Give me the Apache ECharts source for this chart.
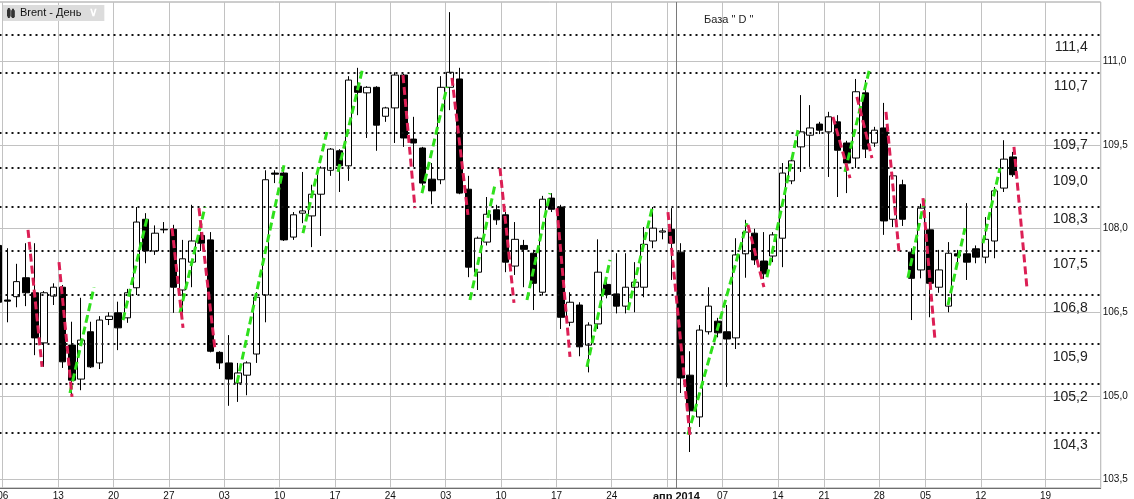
<!DOCTYPE html>
<html><head><meta charset="utf-8">
<script src="https://cdn.jsdelivr.net/npm/echarts@6/dist/echarts.min.js"></script>
<style>html,body{margin:0;padding:0;background:#fff}#c{width:1134px;height:499px}</style>
</head><body><div id="c"></div>
<script>
// ---- categories (trading days, incl. Sunday bars and empty future slots)
const dates = [
'01-05',
'01-06','01-07','01-08','01-09','01-10','01-12',
'01-13','01-14','01-15','01-16','01-17','01-19',
'01-20','01-21','01-22','01-23','01-24','01-26',
'01-27','01-28','01-29','01-30','01-31','02-02',
'02-03','02-04','02-05','02-06','02-07','02-09',
'02-10','02-11','02-12','02-13','02-14','02-16',
'02-17','02-18','02-19','02-20','02-21','02-23',
'02-24','02-25','02-26','02-27','02-28','03-02',
'03-03','03-04','03-05','03-06','03-07','03-09',
'03-10','03-11','03-12','03-13','03-14','03-16',
'03-17','03-18','03-19','03-20','03-21','03-23',
'03-24','03-25','03-26','03-27','03-28','03-30',
'03-31','04-01','04-02','04-03','04-04','04-06',
'04-07','04-08','04-09','04-10','04-11','04-13',
'04-14','04-15','04-16','04-17','04-20',
'04-21','04-22','04-23','04-24','04-25','04-27',
'04-28','04-29','04-30','05-01','05-02',
'05-05','05-06','05-07','05-08','05-09','05-11',
'05-12','05-13','05-14','05-15','05-16','05-17','05-18',
'05-19','05-20','05-21','05-22','05-23','05-24'
];
const opens = [107.70,106.72,106.78,107.12,106.85,105.95,106.79,106.95,105.91,105.30,106.15,105.59,106.37,106.49,106.40,106.94,108.17,107.60,107.98,107.99,106.90,107.40,107.88,107.80,105.78,105.59,105.23,105.37,105.75,106.81,109.00,109.00,107.85,108.28,108.23,108.62,109.05,109.40,109.13,110.56,110.44,110.54,110.02,110.17,110.76,109.61,109.45,108.89,108.88,110.54,110.69,108.71,107.22,107.76,108.34,108.25,107.33,107.70,107.56,106.86,108.55,108.39,106.32,106.63,105.91,106.29,107.00,106.83,106.61,106.95,106.95,107.78,107.94,107.99,107.58,105.37,104.62,106.15,106.34,106.15,106.04,107.55,107.92,107.42,107.51,107.83,108.86,109.47,109.68,109.88,109.74,109.92,109.54,109.27,110.44,109.54,109.81,108.17,108.79,107.58,107.26,107.98,106.95,106.61,107.55,107.55,107.64,107.49,107.78,108.73,109.29];
const highs = [107.83,107.65,107.37,107.74,107.74,106.88,107.02,106.99,106.33,106.76,106.33,106.43,106.50,106.69,106.92,108.39,108.28,108.06,108.12,108.07,107.80,108.43,107.94,107.94,105.80,106.09,105.59,105.62,106.86,109.05,109.05,109.05,108.30,109.02,108.79,109.12,109.45,109.43,110.74,110.89,110.56,110.56,110.19,110.81,110.78,110.01,109.47,109.18,110.74,111.89,110.89,108.95,107.86,108.57,108.43,108.30,108.12,107.80,107.62,108.59,108.64,108.43,106.86,106.68,106.32,107.81,107.08,107.56,107.56,107.40,108.03,108.39,108.01,108.37,107.74,105.80,106.27,106.95,106.40,106.63,107.83,108.16,108.00,107.94,107.94,109.18,109.30,110.40,110.22,109.92,110.10,110.04,109.58,110.69,110.67,109.83,110.26,109.00,108.88,107.65,108.45,108.30,107.62,107.76,107.62,108.46,107.70,108.21,108.75,109.59,109.38];
const lows = [106.61,106.32,106.59,106.61,105.73,105.52,106.63,105.50,105.00,105.10,105.50,105.48,106.27,105.82,106.31,106.81,107.38,107.53,107.92,106.49,106.49,106.95,107.60,105.78,105.48,104.82,104.89,105.01,105.59,106.32,108.82,107.78,107.80,108.10,107.67,107.87,108.95,108.66,108.86,110.04,109.63,109.40,109.92,109.54,109.47,109.11,108.64,108.44,108.80,110.13,108.62,107.13,106.90,107.70,108.07,107.22,107.17,106.95,106.54,106.80,108.30,106.20,106.25,105.71,105.42,106.20,106.75,106.48,106.48,106.50,106.77,107.65,107.81,107.08,105.05,103.99,104.44,106.10,106.05,105.16,105.84,107.12,107.35,107.10,107.40,107.31,108.80,109.02,109.11,109.70,108.93,108.57,108.64,109.09,109.27,109.47,107.89,108.03,108.05,106.36,107.11,106.41,106.85,106.50,107.40,107.08,107.38,107.38,107.47,108.66,108.93];
const closes = [106.68,106.70,107.05,106.85,106.04,106.85,106.95,105.61,105.28,106.00,105.52,106.36,106.43,106.22,106.85,108.12,107.60,107.92,107.99,106.95,107.46,107.78,107.74,105.80,105.59,105.30,105.41,105.59,106.77,108.88,108.98,107.80,108.25,108.32,108.62,109.09,109.43,109.13,110.67,110.45,110.54,109.86,110.17,110.76,109.63,109.54,108.82,108.68,110.54,110.81,108.64,107.31,107.83,108.26,108.16,107.40,107.81,107.63,107.02,108.53,108.35,106.41,106.68,105.88,106.27,107.22,106.82,106.61,106.95,107.04,107.72,108.01,107.96,107.74,105.32,104.73,106.18,106.61,106.13,106.02,107.53,107.94,107.44,107.19,107.89,109.00,109.22,109.74,109.81,109.77,110.01,109.41,109.18,110.46,109.43,109.77,108.14,108.95,108.17,107.11,108.37,107.02,107.26,107.56,107.51,107.40,107.49,107.81,108.68,109.25,108.97];

// ---- x tick labels (category index -> text)
const tickIndex = [1,7,13,19,25,31,37,43,49,55,61,67,74,79,85,90,96,101,107,114];
const tickText  = ['06','13','20','27','03','10','17','24','03','10','17','24','апр 2014','07','14','21','28','05','12','19'];
const weekStartIndex = [1,7,13,19,25,31,37,43,49,55,61,67,73,79,85,90,96,101,107,114];
const monthStartIndex = [74];

// ---- y ticks, level lines
const yTicks = [103.5,105,106.5,108,109.5,111];
const levels = [111.49,110.80,109.73,109.09,108.40,107.60,106.81,105.93,105.21,104.34];
const levelLabels = ['111,4','110,7','109,7','109,0','108,3','107,5','106,8','105,9','105,2','104,3'];
const lastPrice = 109.0;
const lastPriceLabel = '108,95';

// ---- zigzag segments [xStart, priceStart, xEnd, priceEnd] (x in category units)
const upSegments = [
[8.29,105.05,10.89,106.95],[14.04,106.36,16.64,108.19],[20.21,106.49,22.92,108.39],
[26.39,105.23,31.48,109.14],[33.54,107.92,36.14,109.74],[37.34,109.02,40.04,110.90],
[46.44,108.64,49.15,110.55],[51.64,106.72,54.35,108.79],[57.82,106.72,60.31,108.64],
[64.32,105.52,66.82,107.44],[68.77,106.54,71.47,108.43],[75.27,104.30,81.66,108.10],
[83.83,107.13,87.19,109.77],[92.28,109.02,94.99,110.90],[99.11,107.12,100.96,108.57],
[103.45,106.63,105.29,108.01],[107.24,107.74,109.08,109.09]
];
const downSegments = [
[3.74,107.98,5.26,105.52],[7.10,107.40,8.51,104.98],[19.35,108.01,20.54,106.22],
[22.27,108.37,24.01,105.82],[44.38,110.76,45.68,108.37],[49.69,110.71,51.42,108.25],
[54.89,109.09,56.41,106.67],[61.07,108.37,62.48,105.70],[73.10,108.30,75.49,104.26],
[81.77,108.07,83.50,106.95],[90.98,110.01,92.83,108.91],[93.58,110.37,95.21,109.27],
[96.73,110.10,98.14,107.58],[100.74,108.55,102.04,106.00],[110.6,109.47,112.0,106.95]
];

const FONT = 'Liberation Sans, Arial, sans-serif';
const chart = echarts.init(document.getElementById('c'), null, {renderer: 'canvas'});

const candleData = opens.map((o, i) => [o, closes[i], lows[i], highs[i]]);

const levelLines = levels.map((v, i) => ({
  yAxis: v,
  lineStyle: {color: '#111', width: 2, type: [2, 4]},
  label: {show: true, position: 'insideEndBottom', formatter: levelLabels[i],
          fontSize: 14, color: '#222', fontFamily: FONT, distance: [13, 6]}
}));
levelLines.push({
  yAxis: lastPrice,
  lineStyle: {opacity: 0},
  label: {show: true, position: 'end', formatter: lastPriceLabel, distance: 1,
          backgroundColor: '#f4846f', color: '#6a1206', padding: [3, 3, 2, 2],
          fontSize: 10, fontFamily: FONT}
});

function segSeries(segs, color) {
  return segs.map(s => ({
    type: 'line', xAxisIndex: 1, yAxisIndex: 0, z: 6,
    data: [[s[0], s[1]], [s[2], s[3]]],
    symbol: 'none', silent: true, animation: false,
    lineStyle: {color: color, width: 3, type: [8, 4], cap: 'butt'}
  }));
}

const series = [
  {
    name: 'Brent - День', type: 'candlestick', xAxisIndex: 0, yAxisIndex: 0,
    data: candleData, barWidth: 7, z: 3,
    itemStyle: {color: '#ffffff', color0: '#000000', borderColor: '#000000',
                borderColor0: '#000000', borderColorDoji: '#000000', borderWidth: 1},
    markLine: {symbol: 'none', silent: true, animation: false, data: levelLines}
  },
  {
    type: 'line', xAxisIndex: 1, yAxisIndex: 0, z: 2, data: [], symbol: 'none', silent: true,
    markLine: {symbol: 'none', silent: true, animation: false,
      data: monthStartIndex.map(v => ({xAxis: v, lineStyle: {color: '#7a7a7a', width: 1, type: 'solid'}, label: {show: false}}))}
  }
].concat(segSeries(upSegments, '#2fe01c')).concat(segSeries(downSegments, '#dc1f55'));

chart.setOption({
  animation: false,
  backgroundColor: '#ffffff',
  title: [{
    text: 'База " D "', left: 704, top: 14, padding: 0,
    textStyle: {fontSize: 11, fontWeight: 'normal', color: '#222', fontFamily: FONT}
  }],
  legend: {
    left: 3, top: 5, backgroundColor: '#dcdcdc', padding: [2, 6, 2, 4],
    itemWidth: 8, itemHeight: 10, itemGap: 4, selectedMode: false,
    textStyle: {fontSize: 11, color: '#111', fontFamily: FONT,
      rich: {c: {color: '#ffffff', fontSize: 12, fontWeight: 'bold', padding: [0, 0, 0, 8]}}},
    formatter: n => n + '{c|∨}',
    data: [{name: 'Brent - День',
            icon: 'path://M1 0V12M0 3H2V9H0ZM6 1V12M5 4H7V10H5Z',
            itemStyle: {color: '#333', borderColor: '#333'}}]
  },
  grid: {left: -6.5, right: 33.3, top: 2, bottom: 11, show: true,
         outerBoundsMode: 'none', containLabel: false,
         borderColor: '#9a9a9a', borderWidth: 1, backgroundColor: '#ffffff'},
  xAxis: [{
    type: 'category', data: dates, boundaryGap: true, gridIndex: 0,
    axisLine: {show: true, lineStyle: {color: '#6e6e6e'}},
    axisTick: {show: false},
    axisLabel: {
      interval: (i) => tickIndex.includes(i),
      formatter: (v, i) => {
        const k = tickIndex.indexOf(i);
        if (k < 0) return '';
        const t = tickText[k];
        return t.length > 2 ? '{b|' + t + '}' : t;
      },
      margin: 3, fontSize: 10, color: '#111', fontFamily: FONT, padding: [0, 9, 0, 0],
      rich: {b: {fontWeight: 'bold', fontSize: 11, color: '#111', fontFamily: FONT}}
    },
    splitLine: {show: true, interval: (i) => weekStartIndex.includes(i),
                lineStyle: {color: '#c2c2c2', width: 1}}
  }, {
    type: 'value', gridIndex: 0, min: 0, max: 120, show: false,
    splitLine: {show: false}
  }],
  yAxis: [{
    type: 'value', position: 'right', min: 103.344, max: 112.072, scale: true,
    axisLine: {show: true, lineStyle: {color: '#6e6e6e'}},
    axisTick: {show: true, length: 4, customValues: yTicks, lineStyle: {color: '#444'}},
    axisLabel: {customValues: yTicks, formatter: v => v.toFixed(1).replace('.', ','),
                fontSize: 10, color: '#111', fontFamily: FONT, margin: 2},
    splitLine: {show: true, lineStyle: {color: '#c2c2c2', width: 1}}
  }],
  series: series
});
</script></body></html>
